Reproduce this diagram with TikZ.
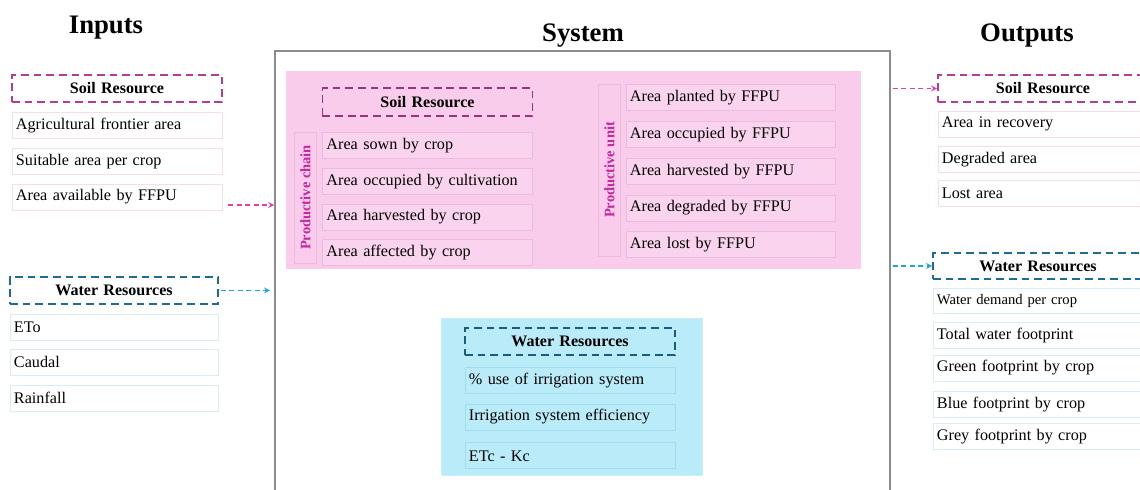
\documentclass[tikz,border=0pt]{standalone}
\usepackage{fontspec}
\setmainfont{Liberation Serif}
\usetikzlibrary{positioning, arrows}

\definecolor{soildash}{RGB}{178,61,151}
\definecolor{soildashdark}{RGB}{150,52,128}
\definecolor{soilarrow}{RGB}{222,64,176}
\definecolor{soilfill}{RGB}{249,204,236}
\definecolor{soilitem}{RGB}{250,212,239}
\definecolor{soilborder}{RGB}{236,186,222}
\definecolor{soillight}{RGB}{242,222,236}
\definecolor{soiltext}{RGB}{196,40,156}
\definecolor{waterdash}{RGB}{31,108,146}
\definecolor{waterdashdark}{RGB}{27,92,122}
\definecolor{waterarrow}{RGB}{28,166,218}
\definecolor{waterfill}{RGB}{185,235,249}
\definecolor{waterborder}{RGB}{164,220,238}
\definecolor{waterlight}{RGB}{218,236,246}
\definecolor{framegray}{RGB}{140,140,140}

\tikzstyle{heading} = [font=\fontsize{19}{22}\selectfont\bfseries]
\tikzstyle{group} = [rectangle, minimum height=0.675cm, text width=5.05cm, align=center, inner xsep=0.1cm, inner ysep=0pt, font=\fontsize{11.4}{13}\selectfont\bfseries, dash pattern=on 5.5pt off 3.5pt, line width=1.3pt]
\tikzstyle{item} = [rectangle, minimum height=0.65cm, text width=5.05cm, align=left, inner xsep=0.1cm, inner ysep=0pt, font=\fontsize{11.5}{13}\selectfont, line width=0.6pt]
\tikzstyle{side} = [rectangle, rotate=90, minimum height=0.55cm, inner sep=0pt, font=\fontsize{10.3}{12}\selectfont\bfseries, text=soiltext, draw=soilborder, line width=0.6pt]
\tikzstyle{arrow} = [->, >=stealth, dash pattern=on 3.5pt off 2.5pt, line width=0.9pt]

\begin{document}
\begin{tikzpicture}[x=0.025cm, y=-0.025cm, node distance=0.225cm]
\clip (0,0) rectangle (1140,490);

%% TITLES

\node (inputs) [heading] at (106,28) {Inputs};
\node (system) [heading] at (583,36) {System};
\node (outputs) [heading] at (1027,36) {Outputs};

%% SYSTEM

\node (sysframe) [rectangle, draw=framegray, line width=1pt, minimum width=15.375cm, minimum height=12.45cm] at (582.5,300) {};
\node (soilsys) [rectangle, fill=soilfill, minimum width=14.375cm, minimum height=4.95cm] at (573.5,170) {};
\node (watersys) [rectangle, fill=waterfill, draw=waterfill!80!white, minimum width=6.525cm, minimum height=3.925cm] at (571.5,396.5) {};

\node (sysSoilHead) [group, draw=soildashdark, minimum height=0.7cm] at (427.5,102) {Soil Resource};
\node (chain1) [item, draw=soilborder, fill=soilitem, below=0.375cm of sysSoilHead] {Area sown by crop};
\node (chain2) [item, draw=soilborder, fill=soilitem, below=of chain1] {Area occupied by cultivation};
\node (chain3) [item, draw=soilborder, fill=soilitem, below=of chain2] {Area harvested by crop};
\node (chain4) [item, draw=soilborder, fill=soilitem, below=of chain3] {Area affected by crop};
\node (chainlabel) [side, minimum width=3.275cm] at (305.5,197.5) {Productive chain};

\node (unit1) [item, draw=soilborder, fill=soilitem, text width=5.025cm] at (730.5,97.5) {Area planted by FFPU};
\node (unit2) [item, draw=soilborder, fill=soilitem, text width=5.025cm, below=0.25cm of unit1] {Area occupied by FFPU};
\node (unit3) [item, draw=soilborder, fill=soilitem, text width=5.025cm, below=0.25cm of unit2] {Area harvested by FFPU};
\node (unit4) [item, draw=soilborder, fill=soilitem, text width=5.025cm, below=0.25cm of unit3] {Area degraded by FFPU};
\node (unit5) [item, draw=soilborder, fill=soilitem, text width=5.025cm, below=0.25cm of unit4] {Area lost by FFPU};
\node (unitlabel) [side, minimum width=4.3cm] at (609.5,170) {Productive unit};

\node (sysWaterHead) [group, draw=waterdashdark] at (570,341.5) {Water Resources};
\node (irr1) [item, draw=waterborder, below=0.27cm of sysWaterHead] {\% use of irrigation system};
\node (irr2) [item, draw=waterborder, below=0.25cm of irr1] {Irrigation system efficiency};
\node (irr3) [item, draw=waterborder, below=0.3cm of irr2] {ETc - Kc};

%% INPUTS

\node (inSoilHead) [group, draw=soildash] at (117,88.5) {Soil Resource};
\node (inSoil1) [item, draw=soillight, below=of inSoilHead] {Agricultural frontier area};
\node (inSoil2) [item, draw=soillight, below=of inSoil1] {Suitable area per crop};
\node (inSoil3) [item, draw=soillight, below=of inSoil2] {Area available by FFPU};

\node (inWaterHead) [group, draw=waterdash, text width=5cm] at (114,290.5) {Water Resources};
\node (inWater1) [item, draw=waterlight, text width=5cm, below=of inWaterHead] {ETo};
\node (inWater2) [item, draw=waterlight, text width=5cm, below=0.2cm of inWater1] {Caudal};
\node (inWater3) [item, draw=waterlight, text width=5cm, below=of inWater2] {Rainfall};

%% OUTPUTS

\node (outSoilHead) [group, draw=soildash] at (1043,88.5) {Soil Resource};
\node (outSoil1) [item, draw=soillight, below=0.2cm of outSoilHead] {Area in recovery};
\node (outSoil2) [item, draw=soillight, below=0.2cm of outSoil1] {Degraded area};
\node (outSoil3) [item, draw=soillight, below=0.175cm of outSoil2] {Lost area};

\node (outWaterHead) [group, draw=waterdash, minimum height=0.65cm] at (1038,266) {Water Resources};
\node (outWater1) [item, draw=waterlight, minimum height=0.625cm, font=\fontsize{10.4}{12}\selectfont, below=0.2cm of outWaterHead] {Water demand per crop};
\node (outWater2) [item, draw=waterlight, below=0.2cm of outWater1] {Total water footprint};
\node (outWater3) [item, draw=waterlight, below=0.15cm of outWater2] {Green footprint by crop};
\node (outWater4) [item, draw=waterlight, below=0.25cm of outWater3] {Blue footprint by crop};
\node (outWater5) [item, draw=waterlight, below=0.125cm of outWater4] {Grey footprint by crop};

%% ARROWS

\draw [arrow, soilarrow] ([xshift=0.15cm, yshift=-0.2cm]inSoil3.east) -- ([yshift=-0.2cm]inSoil3.east -| sysframe.west);
\draw [arrow, waterarrow, shorten >=3pt] ([xshift=0.05cm]inWaterHead.east) -- (inWaterHead.east -| sysframe.west);
\draw [arrow, soilarrow] ([xshift=0.05cm]sysframe.east |- outSoilHead.west) -- (outSoilHead.west);
\draw [arrow, waterarrow] ([xshift=0.05cm]sysframe.east |- outWaterHead.west) -- (outWaterHead.west);
\end{tikzpicture}
\end{document}
